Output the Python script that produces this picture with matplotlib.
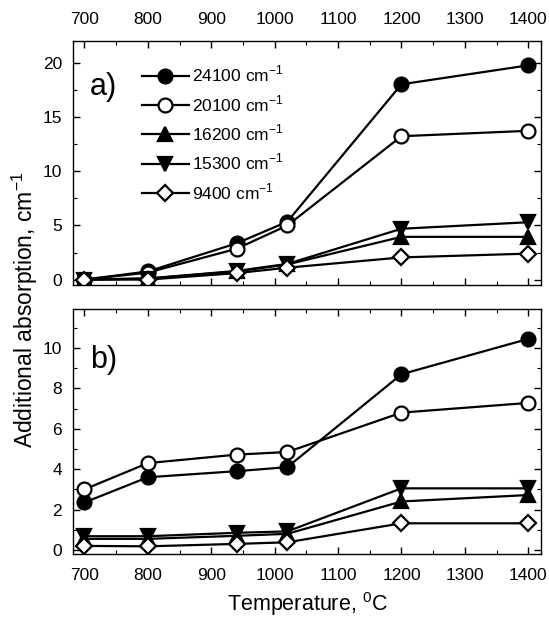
import numpy as np
import matplotlib
matplotlib.use("Agg")
import matplotlib.pyplot as plt
from matplotlib.ticker import MultipleLocator

plt.rcParams['font.family'] = ['Liberation Sans', 'DejaVu Sans']
plt.rcParams['mathtext.fontset'] = 'custom'
plt.rcParams['mathtext.rm'] = 'Liberation Sans'

# Temperatures, deg C
temps = [700, 800, 940, 1020, 1200, 1400]
labels = ["24100 cm$^{-1}$", "20100 cm$^{-1}$", "16200 cm$^{-1}$",
          "15300 cm$^{-1}$", "9400 cm$^{-1}$"]

# panel a)
a_24100 = [0.0, 0.75, 3.35, 5.35, 18.05, 19.8]
a_20100 = [0.0, 0.65, 2.85, 5.0, 13.25, 13.75]
a_16200 = [0.0, 0.1, 0.75, 1.4, 3.95, 3.95]
a_15300 = [0.0, 0.1, 0.8, 1.45, 4.7, 5.3]
a_9400 = [0.0, 0.0, 0.6, 1.1, 2.05, 2.4]

# panel b)
b_24100 = [2.35, 3.6, 3.9, 4.1, 8.7, 10.45]
b_20100 = [3.0, 4.3, 4.72, 4.85, 6.8, 7.28]
b_16200 = [0.55, 0.55, 0.7, 0.8, 2.4, 2.72]
b_15300 = [0.68, 0.68, 0.85, 0.92, 3.05, 3.05]
b_9400 = [0.2, 0.18, 0.3, 0.38, 1.32, 1.32]

styles = [
    dict(marker='o', mfc='black'),
    dict(marker='o', mfc='white'),
    dict(marker='^', mfc='black'),
    dict(marker='v', mfc='black'),
    dict(marker='D', mfc='white', ms=8),
]

fig = plt.figure(figsize=(5.49, 6.19), dpi=100)
ax1 = fig.add_axes([73 / 549, 1 - 285 / 619, 468 / 549, 244 / 619])
ax2 = fig.add_axes([73 / 549, 1 - 554 / 619, 468 / 549, 245 / 619])

series_a = [a_24100, a_20100, a_16200, a_15300, a_9400]
series_b = [b_24100, b_20100, b_16200, b_15300, b_9400]

for ax, series in [(ax1, series_a), (ax2, series_b)]:
    for vals, lab, st in zip(series, labels, styles):
        kw = dict(color='black', lw=1.6, mec='black', mew=1.6, ms=10)
        kw.update(st)
        ax.plot(temps, vals, label=lab, **kw)
    ax.set_xlim(682, 1420)
    ax.xaxis.set_major_locator(MultipleLocator(100))
    ax.xaxis.set_minor_locator(MultipleLocator(50))
    ax.tick_params(which='both', direction='in', top=True, right=True,
                   labelsize=12.5)
    ax.tick_params(axis='x', which='major', pad=10)
    ax.tick_params(axis='y', which='major', pad=8)
    ax.tick_params(which='major', length=5, width=1)
    ax.tick_params(which='minor', length=3, width=0.8)
    for sp in ax.spines.values():
        sp.set_linewidth(1.0)

ax1.set_ylim(-0.5, 22.05)
ax1.yaxis.set_major_locator(MultipleLocator(5))
ax1.yaxis.set_minor_locator(MultipleLocator(2.5))
ax1.tick_params(axis='x', labelbottom=False, labeltop=True)

ax2.set_ylim(-0.2, 11.93)
ax2.yaxis.set_major_locator(MultipleLocator(2))
ax2.yaxis.set_minor_locator(MultipleLocator(1))

ax1.text(0.036, 0.78, "a)", transform=ax1.transAxes, fontsize=22)
ax2.text(0.036, 0.76, "b)", transform=ax2.transAxes, fontsize=22)

leg = ax1.legend(loc='upper left', bbox_to_anchor=(0.147, 0.905), frameon=False,
                 fontsize=12.5, handlelength=2.7, handletextpad=0.2,
                 labelspacing=0.5, borderaxespad=0, borderpad=0)

ax2.set_xlabel("Temperature, $^0$C", fontsize=15.5, labelpad=5)
fig.text(0.045, 0.5, "Additional absorption, cm$^{-1}$", rotation=90,
         ha='center', va='center', fontsize=16.5)

fig.savefig("out.png", dpi=100)
